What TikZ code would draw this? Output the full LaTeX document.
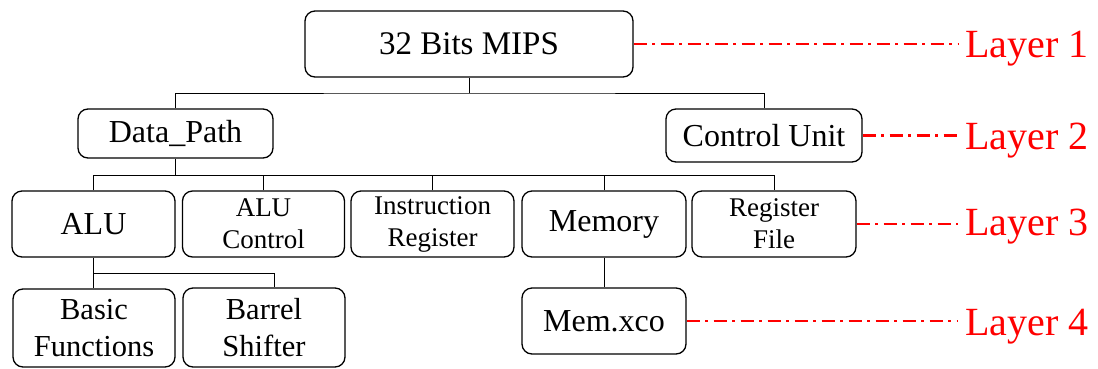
\documentclass[tikz,border=0pt]{standalone}
\usepackage{fontspec}
\setmainfont{Liberation Serif}
\definecolor{layerred}{RGB}{255,0,0}
\tikzset{
  blk/.style={draw=black, line width=1.3pt, rounded corners=10pt, inner sep=0pt, align=center},
  conn/.style={draw=black, line width=1pt},
  layerline/.style={draw=layerred, line width=2.3pt, dash pattern=on 13pt off 5.5pt on 3pt off 5.5pt, shorten >=4pt},
  layerlbl/.style={text=layerred, font=\fontsize{40}{44}\selectfont, anchor=base west, inner sep=3pt},
  big/.style={font=\fontsize{33}{38}\selectfont},
  mid/.style={font=\fontsize{32}{37}\selectfont},
  sml/.style={font=\fontsize{27}{32}\selectfont},
  low/.style={font=\fontsize{30.5}{37}\selectfont}
}
\begin{document}
\begin{tikzpicture}[x=1pt,y=-1pt]
\useasboundingbox (0,0) rectangle (1098,368);
% layer 1
\node[blk,big,minimum width=328pt,minimum height=66pt] (mips) at (469,44) {32 Bits MIPS};
% layer 2
\node[blk,mid,minimum width=195pt,minimum height=49pt] (dp) at (175.5,133.5) {Data\_Path};
\node[blk,mid,minimum width=196pt,minimum height=53pt] (cu) at (764,135.5) {Control Unit};
% layer 3
\node[blk,mid,minimum width=163pt,minimum height=66pt] (alu) at (93.5,224) {ALU};
\node[blk,sml,minimum width=162pt,minimum height=66pt] (aluc) at (263.5,224) {ALU\\Control};
\node[blk,sml,minimum width=163pt,minimum height=66pt] (ir) at (432.5,224) {Instruction\\Register};
\node[blk,mid,minimum width=164pt,minimum height=66pt] (mem) at (604,224) {Memory};
\node[blk,sml,minimum width=164pt,minimum height=66pt] (rf) at (774,224) {Register\\File};
% layer 4
\node[blk,low,minimum width=162pt,minimum height=78pt] (bf) at (94,328) {Basic\\Functions};
\node[blk,low,minimum width=162pt,minimum height=79pt] (bs) at (264,327.5) {Barrel\\Shifter};
\node[blk,mid,minimum width=164pt,minimum height=66pt] (mx) at (604,321) {Mem.xco};
% connectors
\coordinate (h2) at (0,93);
\coordinate (h3) at (0,175);
\coordinate (h4) at (0,273);
\draw[conn] (mips.south) -- (mips.south |- h2);
\draw[conn] (dp.north) |- (mips.south |- h2) -| (cu.north);
\draw[conn] (dp.south) -- (dp.south |- h3);
\draw[conn] (alu.north) |- (rf.north |- h3) -- (rf.north);
\draw[conn] (aluc.north) -- (aluc.north |- h3);
\draw[conn] (ir.north) -- (ir.north |- h3);
\draw[conn] (mem.north) -- (mem.north |- h3);
\draw[conn] (alu.south) -- (alu.south |- bf.north);
\draw[conn] (alu.south |- h4) -| ([xshift=10pt]bs.north);
\draw[conn] (mem.south) -- (mx.north);
% layer labels
\node[layerlbl] (l1) at (962,57) {Layer 1};
\node[layerlbl] (l2) at (962,149) {Layer 2};
\node[layerlbl] (l3) at (962,235) {Layer 3};
\node[layerlbl] (l4) at (962,335) {Layer 4};
\draw[layerline] (mips.east) -- (mips.east -| l1.west);
\draw[layerline] (cu.east) -- (cu.east -| l2.west);
\draw[layerline] (rf.east) -- (rf.east -| l3.west);
\draw[layerline] (mx.east) -- (mx.east -| l4.west);
\end{tikzpicture}
\end{document}
